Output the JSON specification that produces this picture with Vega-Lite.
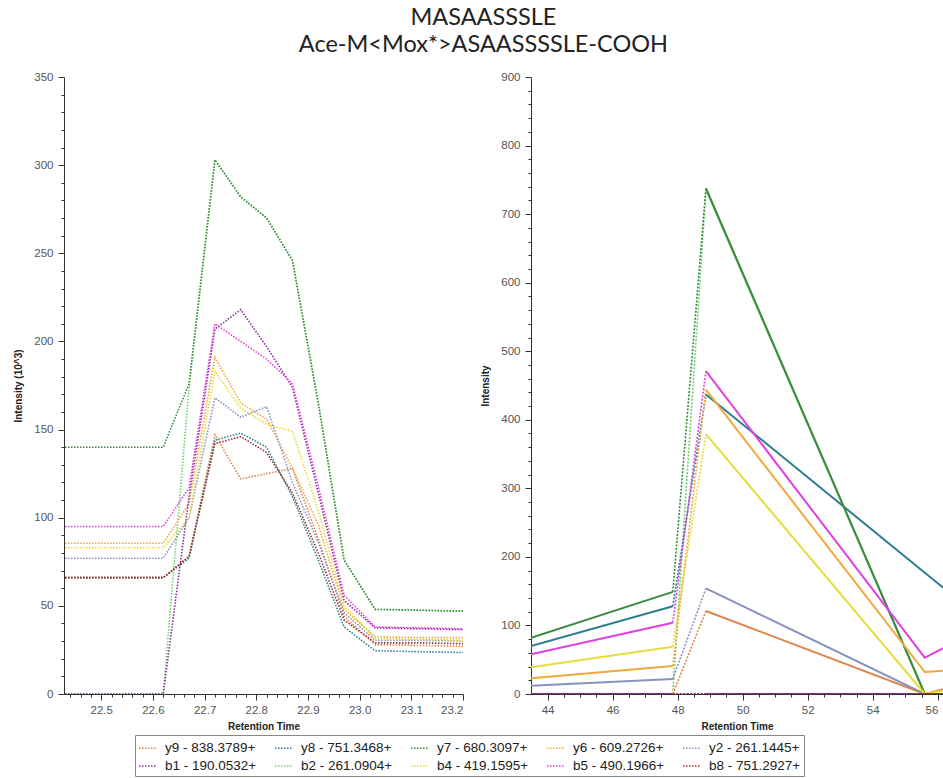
{
  "$schema": "https://vega.github.io/schema/vega-lite/v6.json",
  "padding": {"left": 13, "top": 5, "right": 0, "bottom": 0},
  "background": "white",
  "title": {
    "text": ["MASAASSSLE", "Ace-M<Mox*>ASAASSSSLE-COOH"],
    "font": "Lato",
    "fontSize": 23.5,
    "fontWeight": "normal",
    "color": "#222222",
    "lineHeight": 27,
    "anchor": "middle",
    "dx": 5,
    "offset": 15
  },
  "datasets": {
    "left": [
      {"ion": "b2 - 261.0904+", "t": 22.43, "v": 0}, {"ion": "b2 - 261.0904+", "t": 22.52, "v": 0}, {"ion": "b2 - 261.0904+", "t": 22.62, "v": 0}, {"ion": "b2 - 261.0904+", "t": 22.67, "v": 174}, {"ion": "b2 - 261.0904+", "t": 22.72, "v": 303}, {"ion": "b2 - 261.0904+", "t": 22.77, "v": 282}, {"ion": "b2 - 261.0904+", "t": 22.82, "v": 270}, {"ion": "b2 - 261.0904+", "t": 22.87, "v": 246}, {"ion": "b2 - 261.0904+", "t": 22.92, "v": 165}, {"ion": "b2 - 261.0904+", "t": 22.97, "v": 76}, {"ion": "b2 - 261.0904+", "t": 23.03, "v": 48}, {"ion": "b2 - 261.0904+", "t": 23.12, "v": 47.5}, {"ion": "b2 - 261.0904+", "t": 23.2, "v": 47},
      {"ion": "y9 - 838.3789+", "t": 22.43, "v": 66}, {"ion": "y9 - 838.3789+", "t": 22.52, "v": 66}, {"ion": "y9 - 838.3789+", "t": 22.62, "v": 66}, {"ion": "y9 - 838.3789+", "t": 22.67, "v": 78}, {"ion": "y9 - 838.3789+", "t": 22.72, "v": 147}, {"ion": "y9 - 838.3789+", "t": 22.77, "v": 122}, {"ion": "y9 - 838.3789+", "t": 22.82, "v": 125}, {"ion": "y9 - 838.3789+", "t": 22.87, "v": 128}, {"ion": "y9 - 838.3789+", "t": 22.92, "v": 88}, {"ion": "y9 - 838.3789+", "t": 22.97, "v": 44}, {"ion": "y9 - 838.3789+", "t": 23.03, "v": 28}, {"ion": "y9 - 838.3789+", "t": 23.12, "v": 27.5}, {"ion": "y9 - 838.3789+", "t": 23.2, "v": 27},
      {"ion": "y8 - 751.3468+", "t": 22.43, "v": 66}, {"ion": "y8 - 751.3468+", "t": 22.52, "v": 66}, {"ion": "y8 - 751.3468+", "t": 22.62, "v": 66}, {"ion": "y8 - 751.3468+", "t": 22.67, "v": 77}, {"ion": "y8 - 751.3468+", "t": 22.72, "v": 144}, {"ion": "y8 - 751.3468+", "t": 22.77, "v": 148}, {"ion": "y8 - 751.3468+", "t": 22.82, "v": 140}, {"ion": "y8 - 751.3468+", "t": 22.87, "v": 112}, {"ion": "y8 - 751.3468+", "t": 22.92, "v": 76}, {"ion": "y8 - 751.3468+", "t": 22.97, "v": 38}, {"ion": "y8 - 751.3468+", "t": 23.03, "v": 24.5}, {"ion": "y8 - 751.3468+", "t": 23.12, "v": 24}, {"ion": "y8 - 751.3468+", "t": 23.2, "v": 23.5},
      {"ion": "y7 - 680.3097+", "t": 22.43, "v": 140}, {"ion": "y7 - 680.3097+", "t": 22.52, "v": 140}, {"ion": "y7 - 680.3097+", "t": 22.62, "v": 140}, {"ion": "y7 - 680.3097+", "t": 22.67, "v": 176}, {"ion": "y7 - 680.3097+", "t": 22.72, "v": 303}, {"ion": "y7 - 680.3097+", "t": 22.77, "v": 282}, {"ion": "y7 - 680.3097+", "t": 22.82, "v": 270}, {"ion": "y7 - 680.3097+", "t": 22.87, "v": 246}, {"ion": "y7 - 680.3097+", "t": 22.92, "v": 165}, {"ion": "y7 - 680.3097+", "t": 22.97, "v": 76}, {"ion": "y7 - 680.3097+", "t": 23.03, "v": 48}, {"ion": "y7 - 680.3097+", "t": 23.12, "v": 47.5}, {"ion": "y7 - 680.3097+", "t": 23.2, "v": 47},
      {"ion": "y6 - 609.2726+", "t": 22.43, "v": 85.5}, {"ion": "y6 - 609.2726+", "t": 22.52, "v": 85.5}, {"ion": "y6 - 609.2726+", "t": 22.62, "v": 85.5}, {"ion": "y6 - 609.2726+", "t": 22.67, "v": 108}, {"ion": "y6 - 609.2726+", "t": 22.72, "v": 191}, {"ion": "y6 - 609.2726+", "t": 22.77, "v": 165}, {"ion": "y6 - 609.2726+", "t": 22.82, "v": 156}, {"ion": "y6 - 609.2726+", "t": 22.87, "v": 128}, {"ion": "y6 - 609.2726+", "t": 22.92, "v": 96}, {"ion": "y6 - 609.2726+", "t": 22.97, "v": 48}, {"ion": "y6 - 609.2726+", "t": 23.03, "v": 32.5}, {"ion": "y6 - 609.2726+", "t": 23.12, "v": 32}, {"ion": "y6 - 609.2726+", "t": 23.2, "v": 32},
      {"ion": "y2 - 261.1445+", "t": 22.43, "v": 77}, {"ion": "y2 - 261.1445+", "t": 22.52, "v": 77}, {"ion": "y2 - 261.1445+", "t": 22.62, "v": 77}, {"ion": "y2 - 261.1445+", "t": 22.67, "v": 100}, {"ion": "y2 - 261.1445+", "t": 22.72, "v": 168}, {"ion": "y2 - 261.1445+", "t": 22.77, "v": 157}, {"ion": "y2 - 261.1445+", "t": 22.82, "v": 163}, {"ion": "y2 - 261.1445+", "t": 22.87, "v": 120}, {"ion": "y2 - 261.1445+", "t": 22.92, "v": 86}, {"ion": "y2 - 261.1445+", "t": 22.97, "v": 46}, {"ion": "y2 - 261.1445+", "t": 23.03, "v": 30.5}, {"ion": "y2 - 261.1445+", "t": 23.12, "v": 30.5}, {"ion": "y2 - 261.1445+", "t": 23.2, "v": 30},
      {"ion": "b1 - 190.0532+", "t": 22.43, "v": 0}, {"ion": "b1 - 190.0532+", "t": 22.52, "v": 0}, {"ion": "b1 - 190.0532+", "t": 22.62, "v": 0}, {"ion": "b1 - 190.0532+", "t": 22.67, "v": 112}, {"ion": "b1 - 190.0532+", "t": 22.72, "v": 207}, {"ion": "b1 - 190.0532+", "t": 22.77, "v": 218}, {"ion": "b1 - 190.0532+", "t": 22.82, "v": 197}, {"ion": "b1 - 190.0532+", "t": 22.87, "v": 174}, {"ion": "b1 - 190.0532+", "t": 22.92, "v": 114}, {"ion": "b1 - 190.0532+", "t": 22.97, "v": 53}, {"ion": "b1 - 190.0532+", "t": 23.03, "v": 37.5}, {"ion": "b1 - 190.0532+", "t": 23.12, "v": 37}, {"ion": "b1 - 190.0532+", "t": 23.2, "v": 36.5},
      {"ion": "b4 - 419.1595+", "t": 22.43, "v": 83}, {"ion": "b4 - 419.1595+", "t": 22.52, "v": 83}, {"ion": "b4 - 419.1595+", "t": 22.62, "v": 83}, {"ion": "b4 - 419.1595+", "t": 22.67, "v": 100}, {"ion": "b4 - 419.1595+", "t": 22.72, "v": 183}, {"ion": "b4 - 419.1595+", "t": 22.77, "v": 162}, {"ion": "b4 - 419.1595+", "t": 22.82, "v": 153}, {"ion": "b4 - 419.1595+", "t": 22.87, "v": 149}, {"ion": "b4 - 419.1595+", "t": 22.92, "v": 104}, {"ion": "b4 - 419.1595+", "t": 22.97, "v": 50}, {"ion": "b4 - 419.1595+", "t": 23.03, "v": 31.5}, {"ion": "b4 - 419.1595+", "t": 23.12, "v": 31}, {"ion": "b4 - 419.1595+", "t": 23.2, "v": 30.5},
      {"ion": "b5 - 490.1966+", "t": 22.43, "v": 95}, {"ion": "b5 - 490.1966+", "t": 22.52, "v": 95}, {"ion": "b5 - 490.1966+", "t": 22.62, "v": 95}, {"ion": "b5 - 490.1966+", "t": 22.67, "v": 117}, {"ion": "b5 - 490.1966+", "t": 22.72, "v": 210}, {"ion": "b5 - 490.1966+", "t": 22.77, "v": 200}, {"ion": "b5 - 490.1966+", "t": 22.82, "v": 190}, {"ion": "b5 - 490.1966+", "t": 22.87, "v": 176}, {"ion": "b5 - 490.1966+", "t": 22.92, "v": 118}, {"ion": "b5 - 490.1966+", "t": 22.97, "v": 56}, {"ion": "b5 - 490.1966+", "t": 23.03, "v": 38}, {"ion": "b5 - 490.1966+", "t": 23.12, "v": 37.5}, {"ion": "b5 - 490.1966+", "t": 23.2, "v": 37},
      {"ion": "b8 - 751.2927+", "t": 22.43, "v": 66}, {"ion": "b8 - 751.2927+", "t": 22.52, "v": 66}, {"ion": "b8 - 751.2927+", "t": 22.62, "v": 66}, {"ion": "b8 - 751.2927+", "t": 22.67, "v": 78}, {"ion": "b8 - 751.2927+", "t": 22.72, "v": 142}, {"ion": "b8 - 751.2927+", "t": 22.77, "v": 146}, {"ion": "b8 - 751.2927+", "t": 22.82, "v": 137}, {"ion": "b8 - 751.2927+", "t": 22.87, "v": 114}, {"ion": "b8 - 751.2927+", "t": 22.92, "v": 80}, {"ion": "b8 - 751.2927+", "t": 22.97, "v": 42}, {"ion": "b8 - 751.2927+", "t": 23.03, "v": 29}, {"ion": "b8 - 751.2927+", "t": 23.12, "v": 29}, {"ion": "b8 - 751.2927+", "t": 23.2, "v": 28.5}
    ],
    "right": [
      {"ion": "b2 - 261.0904+", "t": 43.49, "v": 0}, {"ion": "b2 - 261.0904+", "t": 47.85, "v": 0}, {"ion": "b2 - 261.0904+", "t": 48.87, "v": 736}, {"ion": "b2 - 261.0904+", "t": 55.6, "v": 0}, {"ion": "b2 - 261.0904+", "t": 57.0, "v": 0},
      {"ion": "b8 - 751.2927+", "t": 43.49, "v": 0}, {"ion": "b8 - 751.2927+", "t": 47.85, "v": 0}, {"ion": "b8 - 751.2927+", "t": 48.87, "v": 0}, {"ion": "b8 - 751.2927+", "t": 55.6, "v": 0}, {"ion": "b8 - 751.2927+", "t": 57.0, "v": 0},
      {"ion": "y9 - 838.3789+", "t": 43.49, "v": 0}, {"ion": "y9 - 838.3789+", "t": 47.85, "v": 0}, {"ion": "y9 - 838.3789+", "t": 48.87, "v": 121}, {"ion": "y9 - 838.3789+", "t": 55.6, "v": 0}, {"ion": "y9 - 838.3789+", "t": 57.0, "v": 17},
      {"ion": "y8 - 751.3468+", "t": 43.49, "v": 70}, {"ion": "y8 - 751.3468+", "t": 47.85, "v": 128}, {"ion": "y8 - 751.3468+", "t": 48.87, "v": 437}, {"ion": "y8 - 751.3468+", "t": 55.6, "v": 177}, {"ion": "y8 - 751.3468+", "t": 57.0, "v": 123},
      {"ion": "y7 - 680.3097+", "t": 43.49, "v": 82}, {"ion": "y7 - 680.3097+", "t": 47.85, "v": 149}, {"ion": "y7 - 680.3097+", "t": 48.87, "v": 738}, {"ion": "y7 - 680.3097+", "t": 55.6, "v": 0}, {"ion": "y7 - 680.3097+", "t": 57.0, "v": 0},
      {"ion": "y6 - 609.2726+", "t": 43.49, "v": 23}, {"ion": "y6 - 609.2726+", "t": 47.85, "v": 41}, {"ion": "y6 - 609.2726+", "t": 48.87, "v": 444}, {"ion": "y6 - 609.2726+", "t": 55.6, "v": 32}, {"ion": "y6 - 609.2726+", "t": 57.0, "v": 37},
      {"ion": "y2 - 261.1445+", "t": 43.49, "v": 12}, {"ion": "y2 - 261.1445+", "t": 47.85, "v": 22}, {"ion": "y2 - 261.1445+", "t": 48.87, "v": 154}, {"ion": "y2 - 261.1445+", "t": 55.6, "v": 0}, {"ion": "y2 - 261.1445+", "t": 57.0, "v": 0},
      {"ion": "b4 - 419.1595+", "t": 43.49, "v": 39}, {"ion": "b4 - 419.1595+", "t": 47.85, "v": 69}, {"ion": "b4 - 419.1595+", "t": 48.87, "v": 379}, {"ion": "b4 - 419.1595+", "t": 55.6, "v": 0}, {"ion": "b4 - 419.1595+", "t": 57.0, "v": 12},
      {"ion": "b5 - 490.1966+", "t": 43.49, "v": 58}, {"ion": "b5 - 490.1966+", "t": 47.85, "v": 104}, {"ion": "b5 - 490.1966+", "t": 48.87, "v": 471}, {"ion": "b5 - 490.1966+", "t": 55.6, "v": 53}, {"ion": "b5 - 490.1966+", "t": 57.0, "v": 87},
      {"ion": "b1 - 190.0532+", "t": 43.49, "v": 0}, {"ion": "b1 - 190.0532+", "t": 47.85, "v": 0}, {"ion": "b1 - 190.0532+", "t": 48.87, "v": 0}, {"ion": "b1 - 190.0532+", "t": 55.6, "v": 0}, {"ion": "b1 - 190.0532+", "t": 57.0, "v": 0}
    ]
  },
  "spacing": 16,
  "resolve": {"scale": {"color": "shared"}, "legend": {"color": "shared"}},
  "hconcat": [
    {
      "width": 399,
      "height": 617,
      "data": {"name": "left"},
      "mark": {"type": "line", "strokeWidth": 1.6, "strokeDash": [1.5, 1.5], "clip": true},
      "encoding": {
        "x": {
          "field": "t", "type": "quantitative",
          "scale": {"domain": [22.428, 23.2], "nice": false, "zero": false},
          "axis": {
            "title": "Retention Time",
            "values": [22.44,22.46,22.48,22.5,22.52,22.54,22.56,22.58,22.6,22.62,22.64,22.66,22.68,22.7,22.72,22.74,22.76,22.78,22.8,22.82,22.84,22.86,22.88,22.9,22.92,22.94,22.96,22.98,23,23.02,23.04,23.06,23.08,23.1,23.12,23.14,23.16,23.18,23.2],
            "labelExpr": "abs(datum.value*10 - round(datum.value*10)) < 0.001 ? format(datum.value, '.1f') : ''",
            "tickSize": {"condition": {"test": "abs(datum.value*10 - round(datum.value*10)) < 0.001", "value": 6}, "value": 3},
            "labelPadding": 4,
            "titlePadding": 6
          }
        },
        "y": {
          "field": "v", "type": "quantitative",
          "scale": {"domain": [0, 350], "nice": false},
          "axis": {
            "title": "Intensity (10^3)",
            "values": [0,10,20,30,40,50,60,70,80,90,100,110,120,130,140,150,160,170,180,190,200,210,220,230,240,250,260,270,280,290,300,310,320,330,340,350],
            "labelExpr": "datum.value % 50 === 0 ? datum.label : ''",
            "tickSize": {"condition": {"test": "datum.value % 50 === 0", "value": 6}, "value": 3},
            "labelPadding": 5,
            "titlePadding": 10
          }
        },
        "color": {
          "field": "ion", "type": "nominal",
          "scale": {
            "domain": ["y9 - 838.3789+", "y8 - 751.3468+", "y7 - 680.3097+", "y6 - 609.2726+", "y2 - 261.1445+", "b1 - 190.0532+", "b2 - 261.0904+", "b4 - 419.1595+", "b5 - 490.1966+", "b8 - 751.2927+"],
            "range": ["#e0844a", "#2b7f8e", "#3a8a40", "#f2a83a", "#8a92c0", "#8a2a9a", "#6fd06f", "#e6dc3c", "#e040e0", "#a0302a"]
          },
          "legend": {
            "orient": "none",
            "legendX": 71,
            "legendY": 658,
            "direction": "horizontal",
            "columns": 5,
            "title": null,
            "symbolType": "stroke",
            "symbolSize": 324,
            "symbolDash": [1.5, 1.5],
            "symbolStrokeWidth": 1.6,
            "labelFont": "Liberation Sans",
            "labelFontSize": 13.5,
            "labelColor": "#222222",
            "labelOffset": 7,
            "labelLimit": 200,
            "columnPadding": 14,
            "rowPadding": 1,
            "padding": 3,
            "strokeColor": "#888888",
            "fillColor": "white"
          }
        }
      }
    },
    {
      "width": 412,
      "height": 617,
      "data": {"name": "right"},
      "encoding": {
        "x": {
          "field": "t", "type": "quantitative",
          "scale": {"domain": [43.49, 56.16], "nice": false, "zero": false},
          "axis": {
            "title": "Retention Time",
            "values": [44,44.5,45,45.5,46,46.5,47,47.5,48,48.5,49,49.5,50,50.5,51,51.5,52,52.5,53,53.5,54,54.5,55,55.5,56],
            "labelExpr": "datum.value % 2 === 0 ? format(datum.value, 'd') : ''",
            "tickSize": {"condition": {"test": "datum.value % 2 === 0", "value": 6}, "value": 3},
            "labelFlush": 6,
            "labelPadding": 4,
            "titlePadding": 6
          }
        },
        "y": {
          "field": "v", "type": "quantitative",
          "scale": {"domain": [0, 900], "nice": false},
          "axis": {
            "title": "Intensity",
            "values": [0,20,40,60,80,100,120,140,160,180,200,220,240,260,280,300,320,340,360,380,400,420,440,460,480,500,520,540,560,580,600,620,640,660,680,700,720,740,760,780,800,820,840,860,880,900],
            "labelExpr": "datum.value % 100 === 0 ? datum.label : ''",
            "tickSize": {"condition": {"test": "datum.value % 100 === 0", "value": 6}, "value": 3},
            "labelPadding": 5,
            "titlePadding": 10
          }
        },
        "color": {"field": "ion", "type": "nominal"}
      },
      "layer": [
        {"transform": [{"filter": "datum.t <= 47.85"}], "mark": {"type": "line", "strokeWidth": 2, "clip": true}},
        {"transform": [{"filter": "datum.t >= 47.85 && datum.t <= 48.87"}], "mark": {"type": "line", "strokeWidth": 1.6, "strokeDash": [2, 1.5], "clip": true}},
        {"transform": [{"filter": "datum.t >= 48.87"}], "mark": {"type": "line", "strokeWidth": 2, "clip": true}}
      ]
    }
  ],
  "config": {
    "view": {"stroke": null},
    "axis": {
      "domainColor": "#333333",
      "tickColor": "#333333",
      "labelColor": "#555555",
      "labelFont": "Liberation Sans",
      "labelFontSize": 11.5,
      "titleFont": "Liberation Sans",
      "titleFontSize": 10,
      "titleFontWeight": "bold",
      "titleColor": "#222222",
      "grid": false,
      "labelOverlap": false
    }
  }
}
